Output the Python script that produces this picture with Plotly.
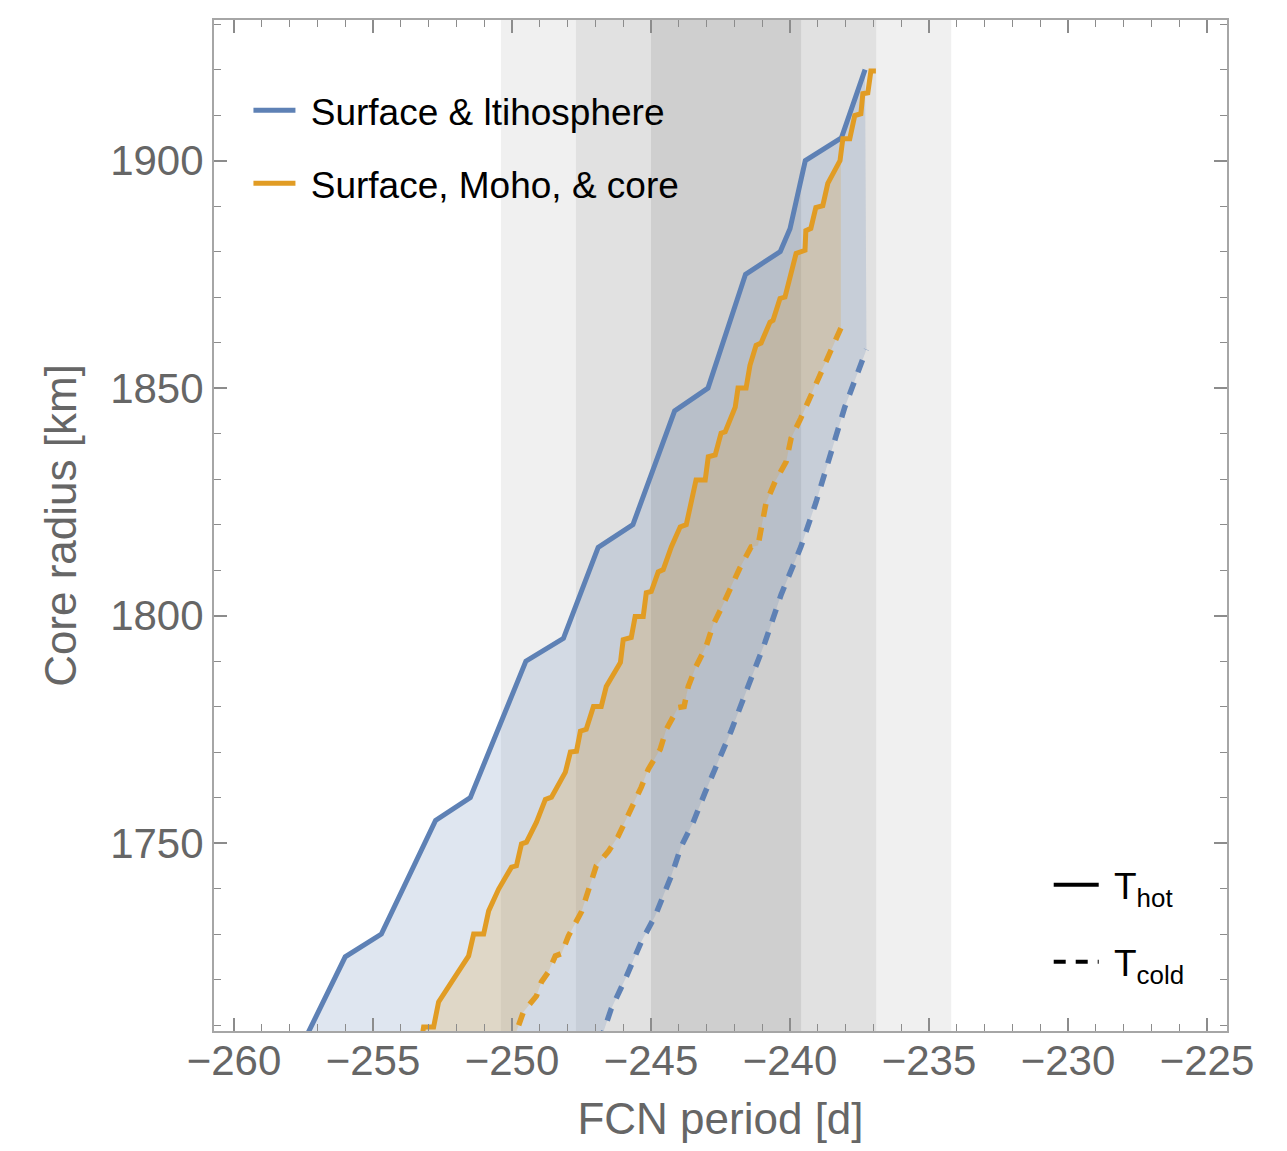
import numpy as np
import plotly.graph_objects as go

# ---------------- data ----------------
# Surface & lithosphere, T_hot (solid blue): FCN period [d], core radius [km]
blue_hot_p = [-257.6, -256.0, -254.7, -252.75, -251.5, -249.5, -248.15, -246.9, -245.65,
              -244.15, -242.95, -241.6, -240.35, -240.0, -239.45, -238.15, -237.3]
blue_hot_r = [1705, 1725, 1730, 1755, 1760, 1790, 1795, 1815, 1820,
              1845, 1850, 1875, 1880, 1885, 1900, 1905, 1920]

# Surface & lithosphere, T_cold (dashed blue)
blue_cold_p = [-246.85, -246.43, -245.92, -245.35, -244.85, -244.27, -243.91, -243.48, -243.05,
               -242.12, -241.51, -240.90, -240.32, -239.61, -239.07, -238.53, -238.03, -237.25]
blue_cold_r = [1706.0, 1713.6, 1720.2, 1728.3, 1734.0, 1742.8, 1749.3, 1754.6, 1761.2,
               1774.6, 1784.4, 1794.1, 1804.6, 1815.1, 1824.8, 1835.7, 1845.8, 1858.5]

# Surface, Moho & core, T_hot (solid orange, stepped)
orange_hot_p = [-253.3, -253.18, -252.82, -252.64, -252.17, -251.56, -251.38, -251.02, -250.84,
                -250.48, -250.02, -249.84, -249.66, -249.48, -249.12, -248.80, -248.58, -248.26,
                -248.08, -247.90, -247.68, -247.54, -247.33, -247.07, -246.79, -246.61, -246.10,
                -246.00, -245.71, -245.57, -245.28, -245.17, -244.99, -244.74, -244.56, -244.27,
                -243.95, -243.73, -243.55, -243.38, -243.05, -242.94, -242.69, -242.48, -242.33,
                -241.97, -241.87, -241.58, -241.44, -241.22, -241.04, -240.72, -240.61, -240.36,
                -240.18, -239.78, -239.46, -239.43, -239.25, -239.07, -238.82, -238.64, -238.20,
                -238.10, -237.85, -237.67, -237.45, -237.38, -237.20, -237.09, -236.91]
orange_hot_r = [1705.0, 1709.6, 1709.6, 1715.1, 1719.5, 1725.2, 1730.0, 1730.0, 1735.1,
                1739.9, 1744.7, 1745.0, 1749.8, 1750.2, 1754.6, 1759.6, 1760.1, 1764.0,
                1765.6, 1770.0, 1770.2, 1774.6, 1775.0, 1780.0, 1780.0, 1784.4, 1789.7,
                1794.7, 1795.2, 1799.8, 1799.8, 1805.0, 1805.3, 1809.6, 1810.1, 1815.1,
                1819.5, 1820.0, 1825.0, 1829.8, 1829.8, 1834.9, 1835.3, 1840.1, 1840.4,
                1845.8, 1850.0, 1850.0, 1855.0, 1859.4, 1859.9, 1864.5, 1864.9, 1869.7,
                1870.0, 1879.6, 1880.3, 1884.6, 1885.1, 1889.7, 1890.1, 1895.0, 1900.0,
                1904.8, 1904.8, 1909.9, 1910.3, 1914.7, 1914.9, 1919.7, 1919.7]

# Surface, Moho & core, T_cold (dashed orange)
orange_cold_p = [-250.05, -249.59, -249.12, -248.94, -248.69, -248.44, -248.22, -247.97, -247.50,
                 -247.25, -246.97, -246.53, -246.18, -245.35, -245.10, -244.67, -244.45, -244.02,
                 -243.81, -243.66, -243.38, -243.02, -242.76, -242.41, -242.12, -241.80, -241.40,
                 -241.15, -240.86, -240.54, -240.14, -239.96, -239.61, -239.28, -239.00, -238.64, -238.17]
orange_cold_r = [1705.0, 1712.9, 1716.4, 1719.5, 1721.7, 1725.2, 1725.7, 1729.6, 1734.9,
                 1739.5, 1745.0, 1748.2, 1751.5, 1762.3, 1766.2, 1770.6, 1775.0, 1779.8,
                 1780.0, 1784.4, 1788.8, 1793.2, 1798.0, 1802.4, 1806.4, 1810.5, 1815.1,
                 1815.4, 1824.8, 1829.4, 1833.8, 1839.0, 1843.4, 1847.8, 1852.2, 1856.6, 1863.2]

# observed FCN period band (mean and sigma) -> 1, 2, 3 sigma shading
fcn_mean = -242.3
fcn_sigma = 2.7
sigma_levels = [3, 2, 1]
band_colors = ["#f0f0f0", "#e1e1e1", "#cfcfcf"]

legend_names = ["Surface & ltihosphere", "Surface, Moho, & core"]
temp_names = ["T<sub>hot</sub>", "T<sub>cold</sub>"]

x_ticks = [-260, -255, -250, -245, -240, -235, -230, -225]
y_ticks = [1750, 1800, 1850, 1900]

# ---------------- styling ----------------
BLUE = "#5E81B5"
ORANGE = "#E19C24"
BLUE_FILL = "rgba(94,129,181,0.2)"
ORANGE_FILL = "rgba(225,156,36,0.2)"
FONT = "Liberation Sans, Arial, Helvetica, sans-serif"
GRAY_TXT = "#666666"
FRAME = "#a6a6a6"
NB = "\u00a0"


def band_polygon(hot_p, hot_r, cold_p, cold_r):
    """Region between hot and cold curves, up to the end of the cold curve."""
    xe = cold_p[-1]
    hp = [p for p in hot_p if p <= xe]
    hr = [r for p, r in zip(hot_p, hot_r) if p <= xe]
    if hp[-1] < xe and xe < hot_p[-1]:
        hp.append(xe)
        hr.append(float(np.interp(xe, hot_p, hot_r)))
    px = hp + [xe] + cold_p[::-1]
    py = hr + [cold_r[-1]] + cold_r[::-1]
    return px, py


fig = go.Figure()

# fills
bx, by = band_polygon(blue_hot_p, blue_hot_r, blue_cold_p, blue_cold_r)
fig.add_trace(go.Scatter(x=bx, y=by, mode="lines", fill="toself", fillcolor=BLUE_FILL,
                         line=dict(width=0), showlegend=False, hoverinfo="skip"))
ox, oy = band_polygon(orange_hot_p, orange_hot_r, orange_cold_p, orange_cold_r)
fig.add_trace(go.Scatter(x=ox, y=oy, mode="lines", fill="toself", fillcolor=ORANGE_FILL,
                         line=dict(width=0), showlegend=False, hoverinfo="skip"))

DASH = "13px,11px"
# cold (dashed)
fig.add_trace(go.Scatter(x=blue_cold_p, y=blue_cold_r, mode="lines",
                         line=dict(color=BLUE, width=5.5, dash=DASH), showlegend=False))
fig.add_trace(go.Scatter(x=orange_cold_p, y=orange_cold_r, mode="lines",
                         line=dict(color=ORANGE, width=5.5, dash=DASH), showlegend=False))
# hot (solid)
fig.add_trace(go.Scatter(x=blue_hot_p, y=blue_hot_r, mode="lines", name=NB + legend_names[0],
                         line=dict(color=BLUE, width=5), legend="legend", legendgroup="a"))
fig.add_trace(go.Scatter(x=orange_hot_p, y=orange_hot_r, mode="lines", name=NB + legend_names[1],
                         line=dict(color=ORANGE, width=5), legend="legend", legendgroup="b"))

# temperature legend entries
fig.add_trace(go.Scatter(x=[None], y=[None], mode="lines", name=NB + temp_names[0],
                         line=dict(color="black", width=4), legend="legend2", legendgroup="c"))
fig.add_trace(go.Scatter(x=[None], y=[None], mode="lines", name=NB + temp_names[1],
                         line=dict(color="black", width=4, dash="12px,10px"),
                         legend="legend2", legendgroup="d"))

# shaded sigma bands
for lvl, col in zip(sigma_levels, band_colors):
    fig.add_shape(type="rect", xref="x", yref="paper",
                  x0=fcn_mean - lvl * fcn_sigma, x1=fcn_mean + lvl * fcn_sigma,
                  y0=0, y1=1, fillcolor=col, line=dict(width=0), layer="below")

axis_common = dict(
    showgrid=False, zeroline=False, showline=True, linecolor=FRAME, linewidth=2,
    mirror="allticks", ticks="inside", tickcolor="#8c8c8c", tickwidth=1.5, ticklen=13,
    tickfont=dict(family=FONT, size=42, color=GRAY_TXT), automargin=True,
)

fig.update_xaxes(range=[-260.72, -224.28], tickvals=x_ticks, ticklabelstandoff=-8,
                 minor=dict(dtick=1, ticks="inside", ticklen=7, tickcolor="#8c8c8c", tickwidth=1.2),
                 title=dict(text="FCN period [d]", font=dict(family=FONT, size=44, color=GRAY_TXT),
                            standoff=22),
                 **axis_common)
fig.update_yaxes(range=[1708.7, 1930.9], tickvals=y_ticks,
                 minor=dict(dtick=10, ticks="inside", ticklen=7, tickcolor="#8c8c8c", tickwidth=1.2),
                 title=dict(text="Core radius [km]", font=dict(family=FONT, size=44, color=GRAY_TXT),
                            standoff=20),
                 **axis_common)

# the page body has an 8 px margin, so the figure is sized/margined to compensate
fig.update_layout(
    width=1271, height=1135,
    margin=dict(l=206, r=52, t=12, b=112, autoexpand=False),
    plot_bgcolor="white", paper_bgcolor="white",
    legend=dict(x=0.034, y=0.941, xanchor="left", yanchor="top", bgcolor="rgba(0,0,0,0)",
                font=dict(family=FONT, size=37, color="black"), tracegroupgap=22, itemwidth=42),
    legend2=dict(x=0.824, y=0.175, xanchor="left", yanchor="top", bgcolor="rgba(0,0,0,0)",
                 font=dict(family=FONT, size=37, color="black"), tracegroupgap=26, itemwidth=45),
)

fig.write_html("out.html")
